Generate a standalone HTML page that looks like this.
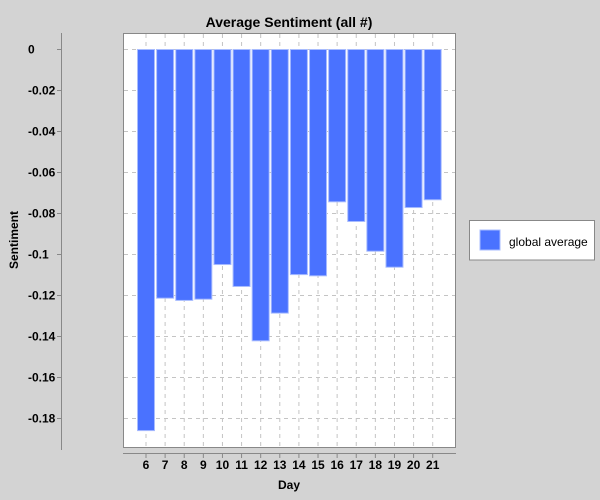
<!DOCTYPE html>
<html><head><meta charset="utf-8"><style>
body{margin:0;background:#d3d3d3;}
svg{display:block;font-family:"Liberation Sans",sans-serif;}
</style></head><body>
<svg id="chart" width="600" height="500">
<rect width="600" height="500" fill="#d3d3d3"/>
<text x="289" y="27" text-anchor="middle" font-size="14" font-weight="bold">Average Sentiment (all #)</text>
<rect x="123.5" y="33.5" width="332" height="414" fill="#fff" stroke="#888"/>
<g id="grid"></g><g id="bars"></g><g id="yaxis"></g><g id="xaxis"></g>
<line x1="61.5" y1="33" x2="61.5" y2="450" stroke="#888"/>
<line x1="123" y1="453.5" x2="456" y2="453.5" stroke="#888"/>
<text x="289" y="489" text-anchor="middle" font-size="12" font-weight="bold">Day</text>
<text transform="translate(18,240) rotate(-90)" text-anchor="middle" font-size="12" font-weight="bold">Sentiment</text>
<g>
<rect x="469.5" y="220.5" width="125" height="39.5" fill="#fff" stroke="#888"/>
<rect x="480" y="230" width="20" height="20" fill="#4a72ff" stroke="#a8bcff"/>
<text x="509" y="246" font-size="12">global average</text>
</g>
</svg>
<script>
const days=["6","7","8","9","10","11","12","13","14","15","16","17","18","19","20","21"];
const values=[-0.1859,-0.1213,-0.1224,-0.1218,-0.1049,-0.1156,-0.1421,-0.1286,-0.1098,-0.1104,-0.0743,-0.0839,-0.0984,-0.1062,-0.0771,-0.0733];
const yTicks=[0,-0.02,-0.04,-0.06,-0.08,-0.1,-0.12,-0.14,-0.16,-0.18];
const yTickLabels=["0","-0.02","-0.04","-0.06","-0.08","-0.1","-0.12","-0.14","-0.16","-0.18"];
const NS="http://www.w3.org/2000/svg";
const y=v=>49.5-v*2050;
const step=(432.7-146)/(days.length-1);
const x=i=>146+i*step;
const bw=17;
function mk(t,a,p){const e=document.createElementNS(NS,t);for(const k in a)e.setAttribute(k,a[k]);p.appendChild(e);return e;}
const grid=document.getElementById('grid'),bars=document.getElementById('bars'),ya=document.getElementById('yaxis'),xa=document.getElementById('xaxis');
yTicks.forEach((v,i)=>{
 const g=mk('line',{x1:124,x2:455,y1:y(v),y2:y(v),stroke:'#c4c4c4','stroke-dasharray':'4,4'},grid);
 
 
 const t=mk('line',{x1:57,x2:61,y1:y(v),y2:y(v),stroke:'#888'},ya);
 
 
 const l=mk('text',{x:28,y:y(v)+4,'text-anchor':'start','font-size':'12','font-weight':'bold'},ya);
 l.textContent=yTickLabels[i];
 
 
});
days.forEach((d,i)=>{
 const g=mk('line',{x1:x(i),x2:x(i),y1:34,y2:447,stroke:'#c4c4c4','stroke-dasharray':'4,4'},grid);
 
 
 const top=y(0),bot=y(values[i]);
 const b=mk('rect',{x:x(i)-bw/2,y:Math.min(top,bot),width:bw,height:Math.abs(bot-top),fill:'#4a72ff',stroke:'#a8bcff','stroke-width':'1'},bars);
 
 
 const t=mk('line',{x1:x(i),x2:x(i),y1:454,y2:458,stroke:'#888'},xa);
 
 
 const l=mk('text',{x:x(i),y:469,'text-anchor':'middle','font-size':'12','font-weight':'bold'},xa);
 l.textContent=d;
 
 
});
</script>
</body></html>
